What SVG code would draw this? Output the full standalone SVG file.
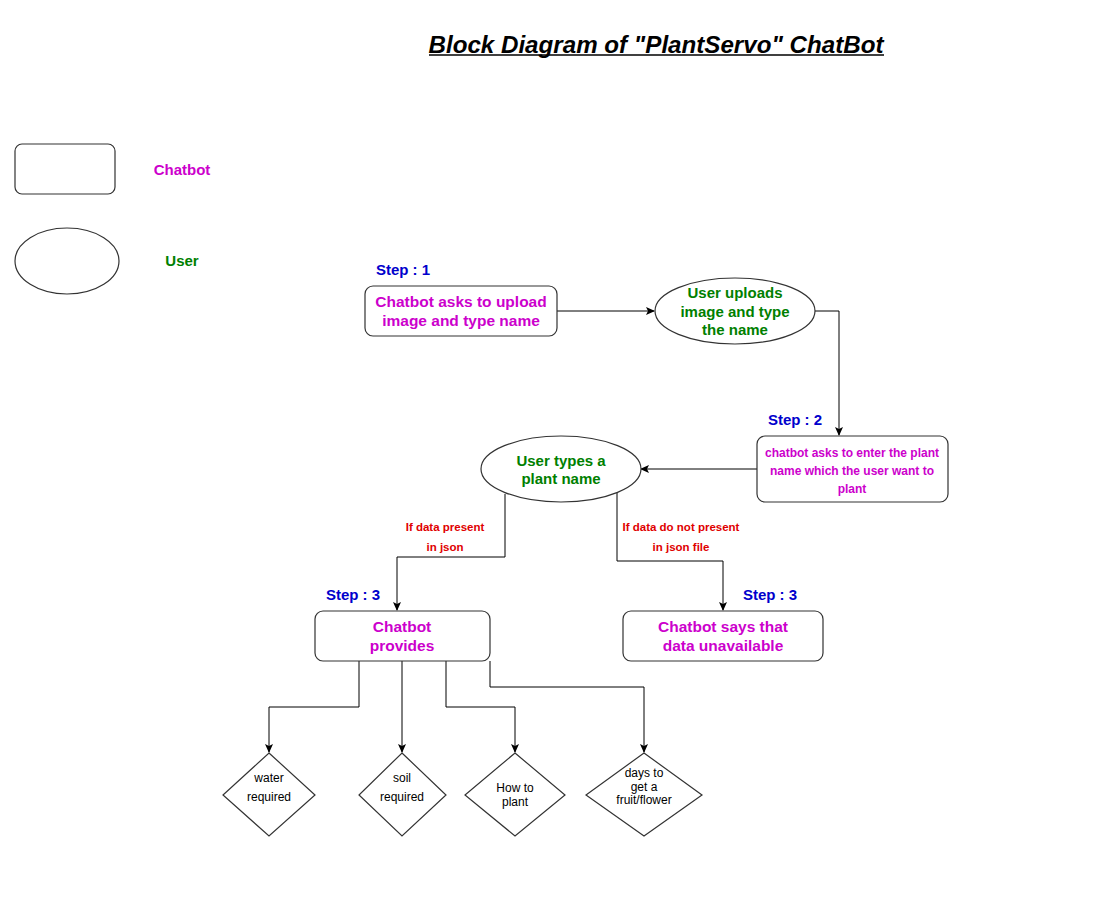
<svg xmlns="http://www.w3.org/2000/svg" width="1116" height="924" viewBox="0 0 1116 924">
<defs>
<marker id="arr" markerWidth="10" markerHeight="10" refX="8" refY="4" orient="auto" markerUnits="userSpaceOnUse">
<path d="M0,0 L9,4 L0,8 L2,4 Z" fill="#000"/>
</marker>
<style>
text{font-family:"Liberation Sans",Arial,sans-serif;text-anchor:middle;dominant-baseline:central}
.box{fill:#fff;stroke:#333;stroke-width:1.2}
.mag{fill:#CC00CC;font-weight:bold}
.grn{fill:#008000;font-weight:bold}
.blu{fill:#0000CC;font-weight:bold;font-size:15px}
.red{fill:#E00000;font-weight:bold;font-size:11.5px}
.blk{fill:#000;font-size:12px}
.con{fill:none;stroke:#000;stroke-width:1;marker-end:url(#arr)}
</style>
</defs>
<rect width="1116" height="924" fill="#fff"/>
<g id="title">
<text x="656" y="44" textLength="455" lengthAdjust="spacingAndGlyphs" style="font-size:24px;font-weight:bold;font-style:italic;fill:#000">Block Diagram of "PlantServo" ChatBot</text>
<line x1="429" y1="55" x2="884" y2="55" stroke="#000" stroke-width="1.5"/>
</g>
<g id="legend-chatbot">
<rect class="box" x="15" y="144" width="100" height="50" rx="7"/>
<text class="mag" x="182" y="169" font-size="15">Chatbot</text>
</g>
<g id="legend-user">
<ellipse class="box" cx="67" cy="261" rx="52" ry="33"/>
<text class="grn" x="182" y="260" font-size="15">User</text>
</g>
<g id="connectors">
<path class="con" d="M557,311 L654,311"/>
<path class="con" d="M815,311 L839,311 L839,435"/>
<path class="con" d="M757,469 L641,469"/>
<path class="con" d="M505,494 L505,557 L397,557 L397,610"/>
<path class="con" d="M617,493 L617,561 L723,561 L723,610"/>
<path class="con" d="M359,661 L359,707 L269,707 L269,752"/>
<path class="con" d="M402,661 L402,752"/>
<path class="con" d="M446,661 L446,707 L515,707 L515,752"/>
<path class="con" d="M490,661 L490,687 L644,687 L644,752"/>
<text class="red" x="445" y="527">If data present</text>
<text class="red" x="445" y="547">in json</text>
<text class="red" x="681" y="527">If data do not present</text>
<text class="red" x="681" y="547">in json file</text>
</g>
<g id="step1">
<text class="blu" x="403" y="269">Step : 1</text>
<rect class="box" x="365" y="286" width="192" height="50" rx="8"/>
<text class="mag" x="461" y="301" font-size="15.5">Chatbot asks to upload</text>
<text class="mag" x="461" y="320" font-size="15.5">image and type name</text>
</g>
<g id="user-uploads">
<ellipse class="box" cx="735" cy="311" rx="80" ry="33"/>
<text class="grn" x="735" y="292" font-size="15">User uploads</text>
<text class="grn" x="735" y="311" font-size="15">image and type</text>
<text class="grn" x="735" y="329" font-size="15">the name</text>
</g>
<g id="step2">
<text class="blu" x="795" y="419">Step : 2</text>
<rect class="box" x="757" y="436" width="191" height="66" rx="8"/>
<text class="mag" x="852" y="453" font-size="12">chatbot asks to enter the plant</text>
<text class="mag" x="852" y="471" font-size="12">name which the user want to</text>
<text class="mag" x="852" y="489" font-size="12">plant</text>
</g>
<g id="user-types">
<ellipse class="box" cx="561" cy="469" rx="80" ry="33"/>
<text class="grn" x="561" y="460" font-size="15">User types a</text>
<text class="grn" x="561" y="478" font-size="15">plant name</text>
</g>
<g id="step3-provides">
<text class="blu" x="353" y="594">Step : 3</text>
<rect class="box" x="315" y="611" width="175" height="50" rx="8"/>
<text class="mag" x="402" y="626" font-size="15.5">Chatbot</text>
<text class="mag" x="402" y="645" font-size="15.5">provides</text>
</g>
<g id="step3-unavailable">
<text class="blu" x="770" y="594">Step : 3</text>
<rect class="box" x="623" y="611" width="200" height="50" rx="8"/>
<text class="mag" x="723" y="626" font-size="15.5">Chatbot says that</text>
<text class="mag" x="723" y="645" font-size="15.5">data unavailable</text>
</g>
<g id="water">
<polygon class="box" points="269,753 315,795 269,836 223,795"/>
<text class="blk" x="269" y="778">water</text>
<text class="blk" x="269" y="797">required</text>
</g>
<g id="soil">
<polygon class="box" points="402,753 446,795 402,836 359,795"/>
<text class="blk" x="402" y="778">soil</text>
<text class="blk" x="402" y="797">required</text>
</g>
<g id="how">
<polygon class="box" points="515,753 565,795 515,836 465,795"/>
<text class="blk" x="515" y="788">How to</text>
<text class="blk" x="515" y="802">plant</text>
</g>
<g id="days">
<polygon class="box" points="644,753 702,795 644,836 586,795"/>
<text class="blk" x="644" y="773" font-size="13">days to</text>
<text class="blk" x="644" y="787" font-size="13">get a</text>
<text class="blk" x="644" y="800" font-size="13">fruit/flower</text>
</g>
</svg>
